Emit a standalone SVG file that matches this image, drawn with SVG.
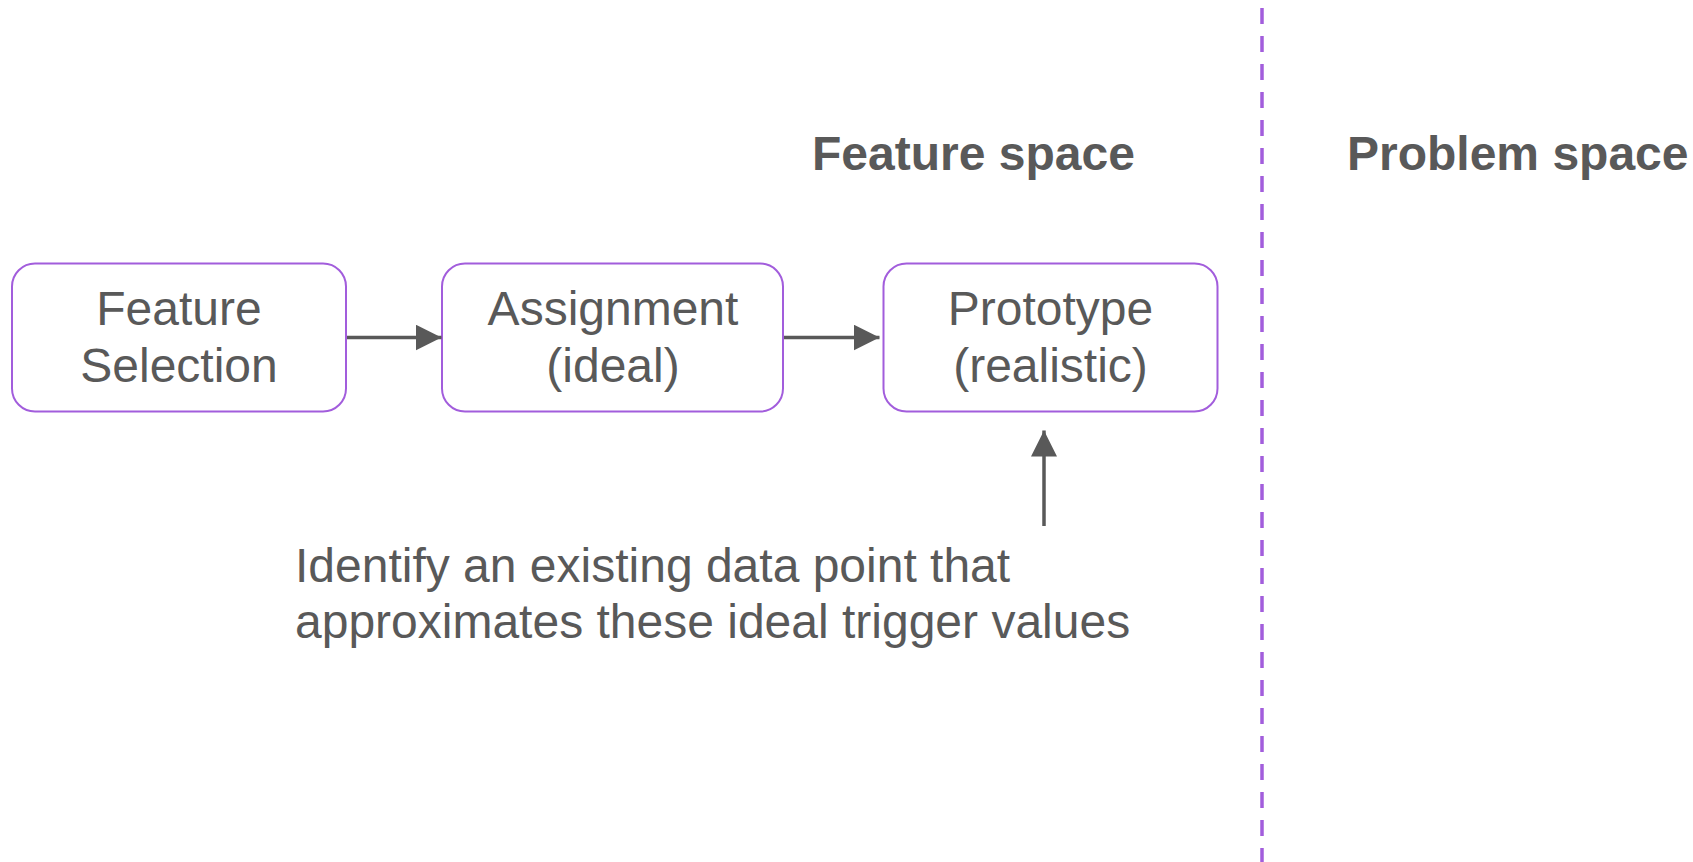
<svg xmlns="http://www.w3.org/2000/svg" width="1693" height="862" viewBox="0 0 1693 862">
<style>
  .box { fill: #ffffff; stroke: #a25ddc; stroke-width: 2; }
  .lbl { font-family: "Liberation Sans", Arial, Helvetica, sans-serif; font-size: 48px; fill: #595959; text-anchor: middle; }
  .title { font-family: "Liberation Sans", Arial, Helvetica, sans-serif; font-size: 48px; font-weight: bold; fill: #595959; }
  .note { font-family: "Liberation Sans", Arial, Helvetica, sans-serif; font-size: 48px; fill: #595959; }
  .conn { stroke: #595959; stroke-width: 3.5; fill: none; }
  .divider { stroke: #a25ddc; stroke-width: 3.5; stroke-dasharray: 16 12; fill: none; }
</style>
<defs>
  <marker id="arrow" markerUnits="userSpaceOnUse" markerWidth="27" markerHeight="28" refX="26" refY="13" orient="auto">
    <path d="M0,0 L26,13 L0,26 Z" fill="#595959"/>
  </marker>
</defs>
<rect width="1693" height="862" fill="#ffffff"/>
<g id="divider">
  <line class="divider" x1="1262" y1="8" x2="1262" y2="862"/>
</g>
<g id="title-feature-space">
  <text class="title" x="812" y="170">Feature space</text>
</g>
<g id="title-problem-space">
  <text class="title" x="1347" y="170">Problem space</text>
</g>
<g id="node-feature-selection">
  <rect class="box" x="12" y="263.5" width="334" height="148" rx="23" ry="23"/>
  <text class="lbl" x="179" y="325">Feature</text>
  <text class="lbl" x="179" y="381.5">Selection</text>
</g>
<g id="node-assignment">
  <rect class="box" x="442" y="263.5" width="341" height="148" rx="23" ry="23"/>
  <text class="lbl" x="613" y="325">Assignment</text>
  <text class="lbl" x="613" y="381.5">(ideal)</text>
</g>
<g id="node-prototype">
  <rect class="box" x="883.5" y="263.5" width="334" height="148" rx="23" ry="23"/>
  <text class="lbl" x="1050.5" y="325">Prototype</text>
  <text class="lbl" x="1050.5" y="381.5">(realistic)</text>
</g>
<g id="note">
  <text class="note" x="295" y="581.5">Identify an existing data point that</text>
  <text class="note" x="295" y="637.5">approximates these ideal trigger values</text>
</g>
<g id="connectors">
  <line class="conn" x1="347" y1="337.5" x2="441.5" y2="337.5" marker-end="url(#arrow)"/>
  <line class="conn" x1="784" y1="337.5" x2="879.5" y2="337.5" marker-end="url(#arrow)"/>
  <line class="conn" x1="1044" y1="526" x2="1044" y2="430.5" marker-end="url(#arrow)"/>
</g>
</svg>
